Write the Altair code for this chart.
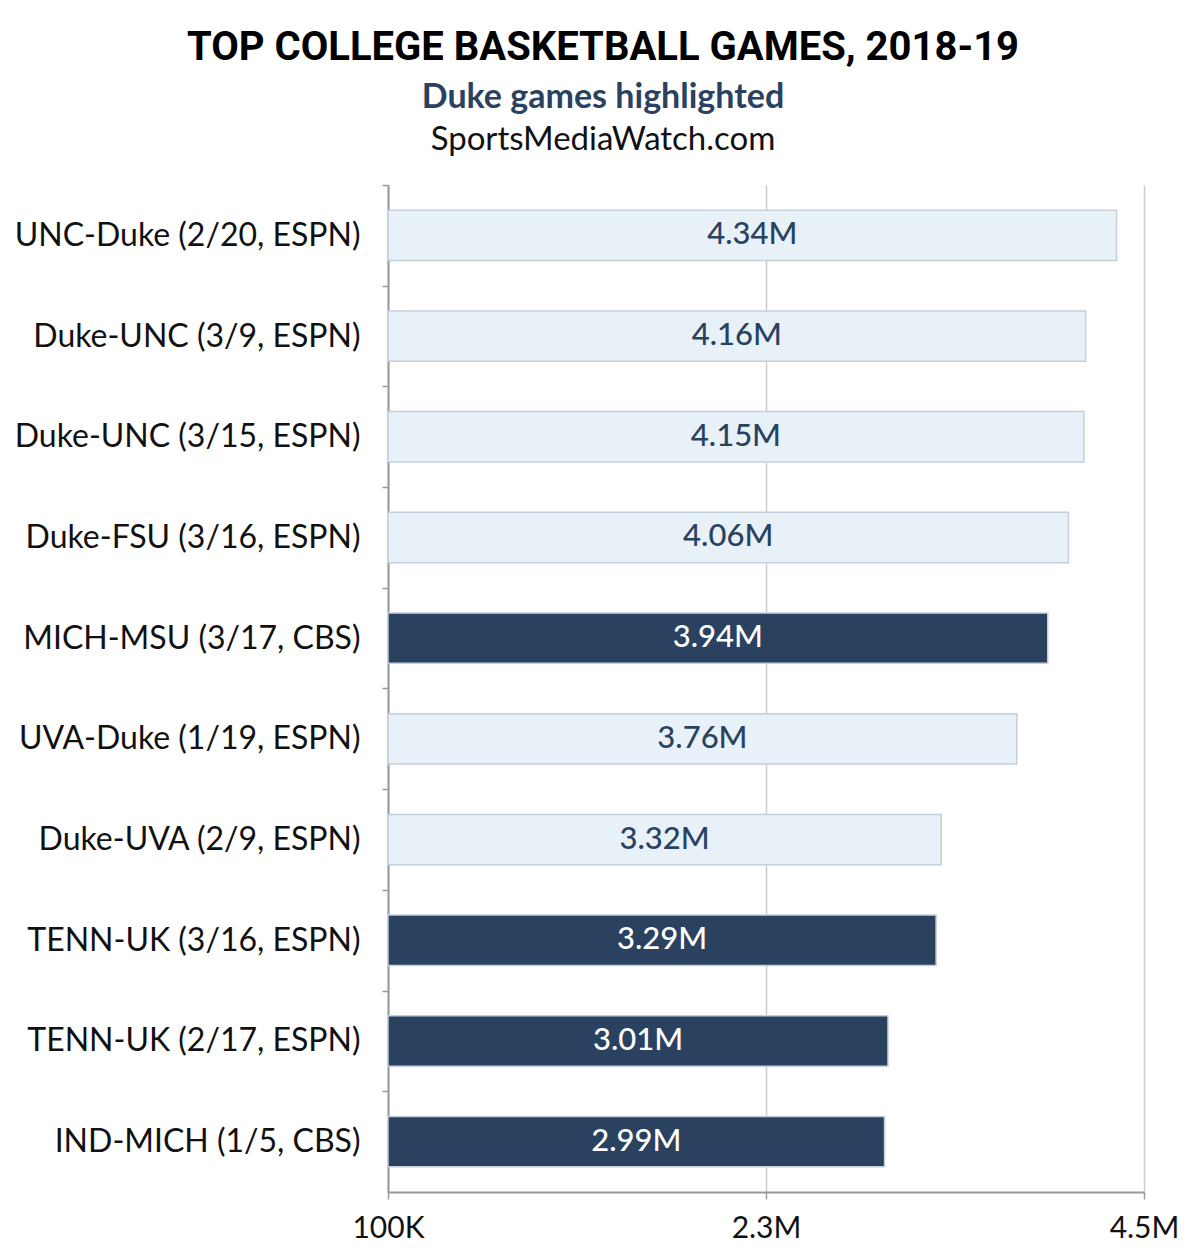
import altair as alt
import pandas as pd

games = ["UNC-Duke (2/20, ESPN)", "Duke-UNC (3/9, ESPN)", "Duke-UNC (3/15, ESPN)",
         "Duke-FSU (3/16, ESPN)", "MICH-MSU (3/17, CBS)", "UVA-Duke (1/19, ESPN)",
         "Duke-UVA (2/9, ESPN)", "TENN-UK (3/16, ESPN)", "TENN-UK (2/17, ESPN)",
         "IND-MICH (1/5, CBS)"]
viewers = [4.34, 4.16, 4.15, 4.06, 3.94, 3.76, 3.32, 3.29, 3.01, 2.99]  # millions
duke = ["Duke", "Duke", "Duke", "Duke", "Other", "Duke", "Duke", "Other", "Other", "Other"]
x_ticks = [0.1, 2.3, 4.5]
baseline = 0.1

df = pd.DataFrame({"game": games, "v": viewers, "group": duke})
df["label"] = [f"{v:.2f}M" for v in viewers]

FONT = "Lato"
NAVY = "#2a4260"
HALF_STEP = 1007 / 10 / 2

y_enc = alt.Y("game:N", sort=games, title=None,
              scale=alt.Scale(paddingInner=0.5, paddingOuter=0.25),
              axis=alt.Axis(tickOffset=-HALF_STEP, labelOffset=HALF_STEP,
                            labelFont=FONT, labelFontSize=32,
                            labelColor="#111111", labelPadding=22, tickSize=6,
                            tickColor="#999999", domainColor="#999999", domainWidth=2,
                            tickWidth=1.5, grid=False, labelLimit=400))
x_scale = alt.Scale(domain=[0.1, 4.5], nice=False, zero=False)

base = alt.Chart(df)

bars = base.mark_bar(strokeWidth=1.5).encode(
    y=y_enc,
    x=alt.X("v:Q", scale=x_scale, title=None,
            axis=alt.Axis(values=x_ticks, labelExpr="datum.value < 1 ? '100K' : format(datum.value, '.1f') + 'M'",
                          labelFont=FONT, labelFontSize=30, labelColor="#111111",
                          labelPadding=14, tickSize=7, tickColor="#999999", tickWidth=1.5,
                          domainColor="#999999", domainWidth=2, grid=True,
                          gridColor="#cccccc", gridWidth=1.5, labelFlush=False)),
    x2=alt.datum(baseline),
    color=alt.Color("group:N", scale=alt.Scale(domain=["Duke", "Other"], range=["#e8f0f8", NAVY]), legend=None),
    stroke=alt.Stroke("group:N", scale=alt.Scale(domain=["Duke", "Other"], range=["#c5cfdb", "#c5cfdb"]), legend=None),
)

labels = base.transform_calculate(mid=f"(datum.v + {baseline}) / 2").mark_text(
    font=FONT, fontSize=31, fontWeight=500, baseline="middle", align="center"
).encode(
    y=alt.Y("game:N", sort=games),
    x=alt.X("mid:Q", scale=x_scale),
    text="label:N",
    color=alt.Color("group:N", scale=alt.Scale(domain=["Duke", "Other"], range=[NAVY, "#ffffff"]), legend=None),
)

src = alt.Chart(pd.DataFrame({"t": ["SportsMediaWatch.com"]})).mark_text(
    font=FONT, fontSize=33, color="#111111", baseline="middle", align="center"
).encode(x=alt.value(215), y=alt.value(-45), text="t:N")

chart = alt.layer(bars, labels, src).resolve_scale(color="independent").properties(
    width=756, height=1007,
    autosize=alt.AutoSizeParams(type="none"),
    padding={"left": 380, "top": 177, "right": 50, "bottom": 58},
    title=alt.TitleParams(
        text="TOP COLLEGE BASKETBALL GAMES, 2018-19",
        subtitle="Duke games highlighted",
        anchor="middle", frame="group", dx=-163, offset=9,
        font="Roboto", fontSize=40, fontWeight="bold", color="#000000",
        subtitleFont=FONT, subtitleFontSize=34, subtitleFontWeight="bold",
        subtitleColor=NAVY, subtitlePadding=13,
    ),
).configure_view(stroke=None)

chart.save("out.html", embed_options={"renderer": "svg", "actions": False})
